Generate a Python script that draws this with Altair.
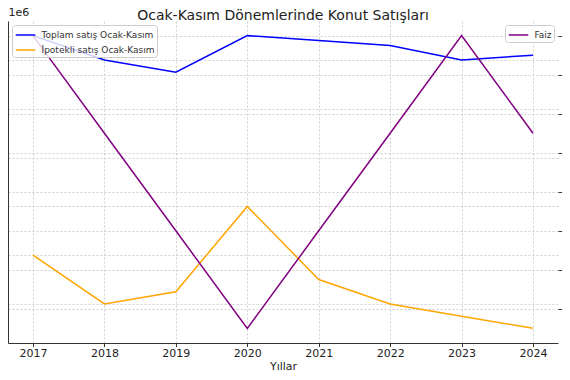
import altair as alt
import pandas as pd

years = [2017, 2018, 2019, 2020, 2021, 2022, 2023, 2024]
toplam = [1300000, 1200000, 1150000, 1300000, 1280000, 1260000, 1200000, 1220000]
ipotekli = [400000, 200000, 250000, 600000, 300000, 200000, 150000, 100000]
faiz = [40, 35, 30, 25, 30, 35, 40, 35]
sales_names = ["Toplam satış Ocak-Kasım", "İpotekli satış Ocak-Kasım"]
rate_name = "Faiz"
left_ticks = [200000, 400000, 600000, 800000, 1000000, 1200000]
right_ticks = [26, 28, 30, 32, 34, 36, 38, 40]

sales_df = pd.DataFrame({
    "Yıl": years * 2,
    "Satış": toplam + ipotekli,
    "Seri": [sales_names[0]] * len(years) + [sales_names[1]] * len(years),
})
rate_df = pd.DataFrame({"Yıl": years, "Faiz": faiz, "Seri": [rate_name] * len(years)})

FONT = "DejaVu Sans"
GRID = dict(grid=True, gridDash=[2, 2], gridColor="#c4c4c4", gridWidth=0.8)

x_enc = alt.X(
    "Yıl:Q",
    scale=alt.Scale(domain=[2016.65, 2024.35], nice=False, zero=False),
    axis=alt.Axis(values=years, format="d", title="Yıllar", tickSize=3.5, labelPadding=0.5,
                  titlePadding=2, labelFontSize=11, titleFontSize=11, titleFontWeight="normal",
                  domainColor="#333333", tickColor="#333333", labelColor="#222222",
                  titleColor="#222222", labelFont=FONT, titleFont=FONT, **GRID),
)

legend_common = dict(title=None, labelFontSize=9, labelFont=FONT, labelColor="#333333",
                     symbolType="M-1.4,0H1.4", symbolSize=196, symbolStrokeWidth=1.5,
                     symbolOffset=3.5, labelOffset=8,
                     strokeColor="#cccccc", fillColor="rgba(255,255,255,0.8)",
                     padding=2, cornerRadius=3, rowPadding=2, offset=4)

sales = alt.Chart(sales_df).mark_line(strokeWidth=1.5).encode(
    x=x_enc,
    y=alt.Y(
        "Satış:Q",
        scale=alt.Scale(domain=[40000, 1360000], nice=False, zero=False),
        axis=alt.Axis(values=left_ticks, labelExpr="format(datum.value / 1e6, '.1f')",
                      title="1e6", titleAngle=0, titleAlign="left", titleBaseline="bottom",
                      titleX=0, titleY=-4, titleFontSize=11, titleFontWeight="normal",
                      titleFont=FONT, labelFont=FONT, labelFontSize=11, tickSize=3.5,
                      domainColor="#333333", tickColor="#333333", labelColor="#222222",
                      titleColor="#222222", **GRID),
    ),
    color=alt.Color("Seri:N", scale=alt.Scale(domain=sales_names, range=["#0000ff", "#ffa500"]),
                    legend=alt.Legend(orient="top-left", **legend_common)),
)

rate = alt.Chart(rate_df).mark_line(strokeWidth=1.5).encode(
    x=x_enc,
    y=alt.Y(
        "Faiz:Q",
        scale=alt.Scale(domain=[24.25, 40.75], nice=False, zero=False),
        axis=alt.Axis(orient="right", values=right_ticks, format="d", title=None, domain=False,
                      labelColor="#800080", labelFont=FONT, labelFontSize=11, tickSize=3.5,
                      tickColor="#333333", **GRID),
    ),
    color=alt.Color("Seri:N", scale=alt.Scale(domain=[rate_name], range=["#800080"]),
                    legend=alt.Legend(orient="top-right", **legend_common)),
)

chart = alt.layer(sales, rate).resolve_scale(y="independent", color="independent").properties(
    width=550,
    height=322,
    autosize=alt.AutoSizeParams(type="none"),
    padding={"left": 0, "top": 13, "right": 4, "bottom": 29},
    title=alt.TitleParams("Ocak-Kasım Dönemlerinde Konut Satışları", fontSize=14,
                          fontWeight="normal", font=FONT, color="#222222", anchor="middle",
                          offset=-17),
).configure_view(stroke=None)

chart.save("out.html", embed_options={"renderer": "svg", "actions": False})
